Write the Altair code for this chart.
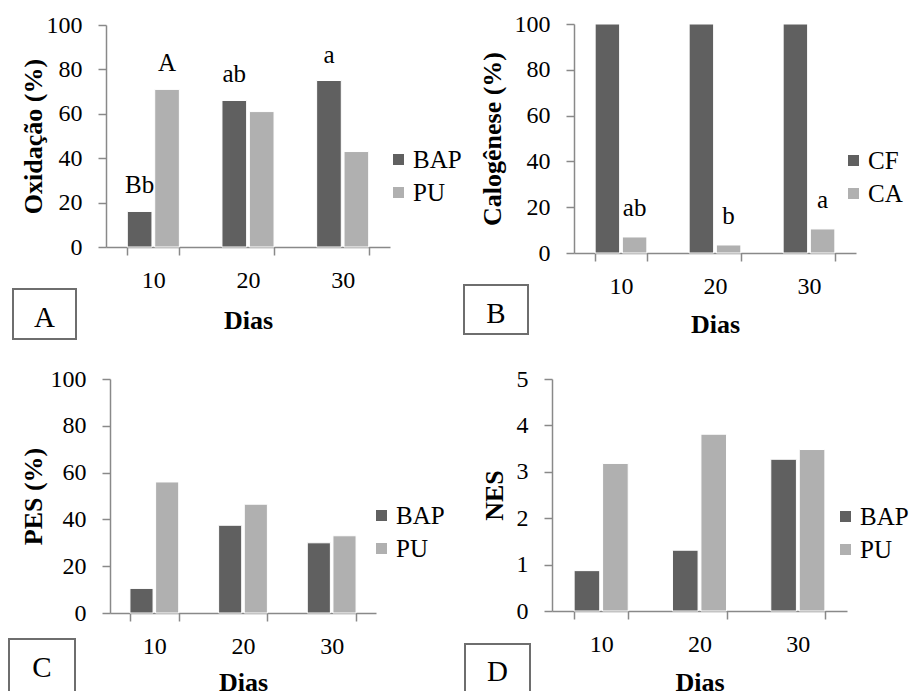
import altair as alt
import pandas as pd

dias = ["10", "20", "30"]

# Panel A - Oxidação (%)
oxid_series = ["BAP", "PU"]
oxid_bap = [16, 66, 75]
oxid_pu = [71, 61, 43]
oxid_lab_bap = ["Bb", "ab", "a"]
oxid_lab_pu = ["A", "", ""]

# Panel B - Calogênese (%)
calo_series = ["CF", "CA"]
calo_cf = [100, 100, 100]
calo_ca = [7, 3.5, 10.5]
calo_lab_cf = ["", "", ""]
calo_lab_ca = ["ab", "b", "a"]

# Panel C - PES (%)
pes_series = ["BAP", "PU"]
pes_bap = [10.5, 37.5, 30]
pes_pu = [56, 46.5, 33]

# Panel D - NES
nes_series = ["BAP", "PU"]
nes_bap = [0.87, 1.31, 3.27]
nes_pu = [3.18, 3.81, 3.48]

empty_labels = ["", "", ""]

DARK = "#606060"
LIGHT = "#b0b0b0"
AXIS = "#898989"
FONT = "Liberation Serif"

W, H = 909, 691


def make_df(series_names, values, labels):
    rows = []
    for s, vals, labs in zip(series_names, values, labels):
        for d, v, l in zip(dias, vals, labs):
            rows.append({"dia": d, "serie": s, "valor": v, "rotulo": l})
    return pd.DataFrame(rows)


def panel(df, series_names, ytitle, ymax, ystep, plot, ytitle_x, xtitle_y,
          legend_xy, box, letter, letter_xy, label_dy=-19):
    x0, x1, ytop, ybot = plot
    x = alt.X(
        "dia:N", sort=dias, title="Dias",
        scale=alt.Scale(range=[x0, x1], paddingInner=0.45, paddingOuter=0.225),
        axis=alt.Axis(orient="bottom", offset=ybot - H, labelAngle=0,
                      labelFont=FONT, titleFont=FONT, labelColor="black",
                      titleColor="black",
                      labelFontSize=24, labelBaseline="alphabetic",
                      labelPadding=32, tickSize=8, tickBand="extent",
                      titleFontSize=26, titleFontWeight="bold",
                      titleX=(x0 + x1) / 2, titleY=xtitle_y,
                      titleBaseline="alphabetic", titleAlign="center",
                      domainColor=AXIS, tickColor=AXIS, domainWidth=1.5,
                      tickWidth=1.5, grid=False),
    )
    y = alt.Y(
        "valor:Q", title=ytitle,
        scale=alt.Scale(domain=[0, ymax], range=[ybot, ytop], nice=False),
        axis=alt.Axis(orient="left", offset=-x0,
                      values=list(range(0, ymax + 1, ystep)), tickSize=8,
                      labelFont=FONT, titleFont=FONT, labelColor="black",
                      titleColor="black",
                      labelPadding=16, labelFontSize=24, titleFontSize=26,
                      titleFontWeight="bold", titleX=ytitle_x - x0,
                      titleY=(ytop + ybot) / 2, titleBaseline="middle",
                      titleAlign="center", titleAngle=270,
                      domainColor=AXIS, tickColor=AXIS, domainWidth=1.5,
                      tickWidth=1.5, grid=False),
    )
    xo = alt.XOffset("serie:N", sort=series_names,
                     scale=alt.Scale(paddingInner=0.1, paddingOuter=0))
    base = alt.Chart(df).encode(x=x, y=y, xOffset=xo)
    bars = base.mark_bar(stroke="white", strokeWidth=1).encode(
        color=alt.Color(
            "serie:N", sort=series_names,
            scale=alt.Scale(domain=series_names, range=[DARK, LIGHT]),
            legend=alt.Legend(title=None, orient="none", legendX=legend_xy[0],
                              legendY=legend_xy[1], symbolType="square",
                              symbolSize=121, labelFontSize=25, labelFont=FONT,
                              labelColor="black", rowPadding=7, labelOffset=2,
                              symbolStrokeWidth=0, padding=0),
        )
    )
    texts = base.transform_filter("datum.rotulo != ''").mark_text(
        baseline="alphabetic", dy=label_dy, fontSize=25, font=FONT, color="black"
    ).encode(text="rotulo:N")

    bdf = pd.DataFrame({"t": [letter]})
    rect = alt.Chart(bdf).mark_rect(fill="white", stroke="#6e6e6e", strokeWidth=2).encode(
        x=alt.value(box[0]), x2=alt.value(box[1]), y=alt.value(box[2]), y2=alt.value(box[3])
    )
    ltxt = alt.Chart(bdf).mark_text(fontSize=29, font=FONT, baseline="middle",
                                    color="black").encode(
        text="t:N", x=alt.value(letter_xy[0]), y=alt.value(letter_xy[1])
    )
    return alt.layer(bars, texts), alt.layer(rect, ltxt)


dfA = make_df(oxid_series, [oxid_bap, oxid_pu], [oxid_lab_bap, oxid_lab_pu])
dfB = make_df(calo_series, [calo_cf, calo_ca], [calo_lab_cf, calo_lab_ca])
dfC = make_df(pes_series, [pes_bap, pes_pu], [empty_labels, empty_labels])
dfD = make_df(nes_series, [nes_bap, nes_pu], [empty_labels, empty_labels])

pA, bA = panel(dfA, oxid_series, "Oxidação (%)", 100, 20, (106, 390, 25, 247), 33, 81,
               (386, 147), (13, 76, 289, 339), "A", (44.5, 318), label_dy=-18)
pB, bB = panel(dfB, calo_series, "Calogênese (%)", 100, 20, (574, 856, 24, 253), 492, 79,
               (841, 148), (464, 528, 285, 334), "B", (496, 314), label_dy=-21)
pC, bC = panel(dfC, pes_series, "PES (%)", 100, 20, (110, 376, 379, 613), 33, 77,
               (369, 503), (9, 75, 639, 700), "C", (42, 668))
pD, bD = panel(dfD, nes_series, "NES", 5, 1, (552, 847, 379, 611), 494, 79,
               (833, 504), (465, 530, 644, 700), "D", (497.5, 672))

chart = alt.layer(bA, bB, bC, bD, pA, pB, pC, pD).resolve_scale(
    x="independent", y="independent", color="independent", xOffset="independent"
).resolve_axis(x="independent", y="independent").resolve_legend(
    color="independent"
).properties(
    width=W, height=H,
    autosize=alt.AutoSizeParams(type="none"),
    padding=0,
    background="white",
).configure(font=FONT).configure_axis(
    labelFont=FONT, titleFont=FONT, labelColor="black", titleColor="black",
    domainColor=AXIS, tickColor=AXIS, domainWidth=1.5, tickWidth=1.5, grid=False,
).configure_legend(labelFont=FONT).configure_text(font=FONT).configure_view(stroke=None)

chart.save("out.html", embed_options={"renderer": "svg", "actions": False})
